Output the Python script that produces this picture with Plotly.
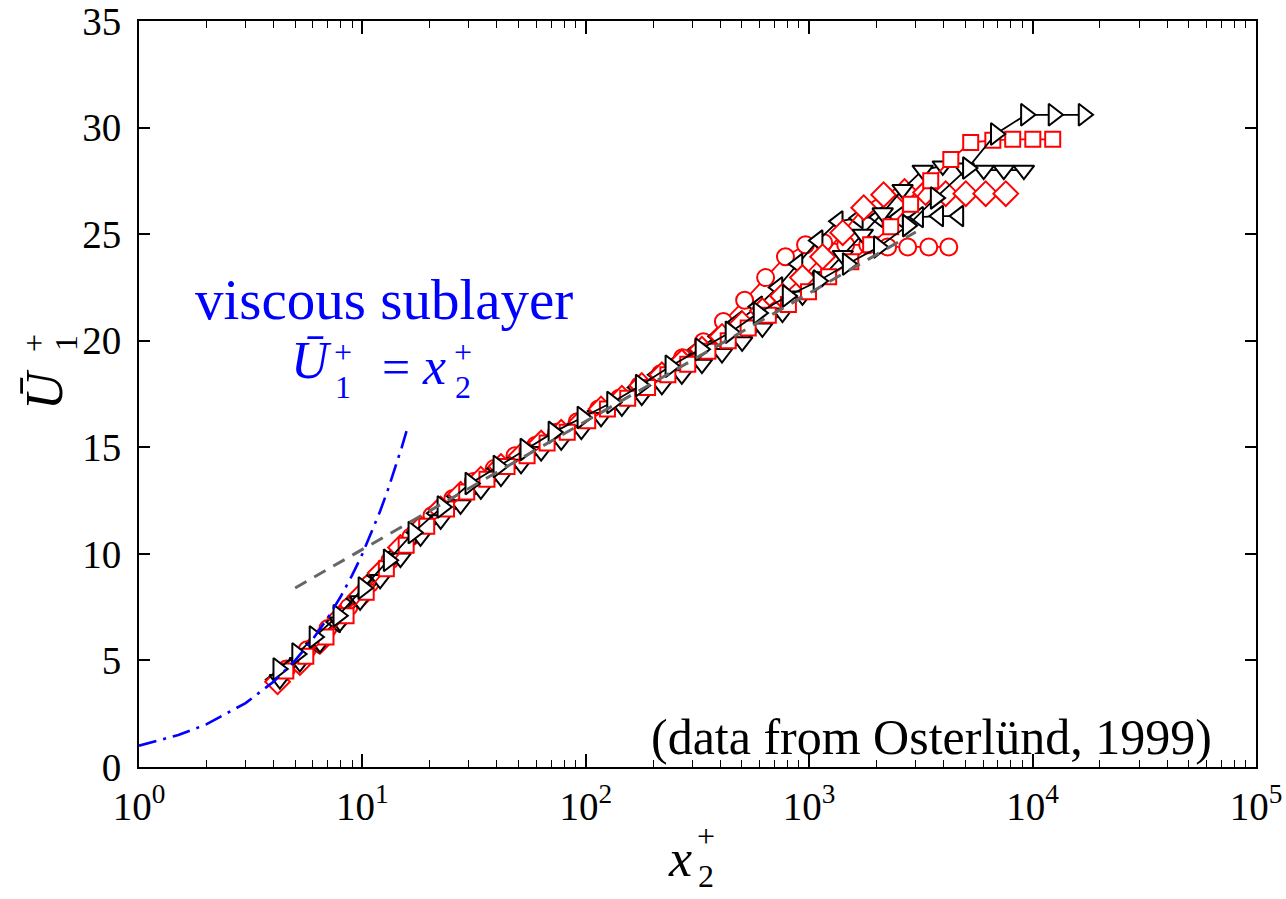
import plotly.graph_objects as go

# ---------------- data ----------------
circ_x = [4.57, 5.66, 7.01, 8.69, 10.8, 13.3, 16.5, 20.5, 25.4, 31.4, 38.9, 48.2, 59.7, 74.0, 91.6,
          114, 141, 174, 216, 271, 336, 413, 514, 638, 783, 963, 1161, 1457, 1827, 2245, 2760, 3430, 4215]
circ_u = [4.6, 5.5, 6.5, 7.5, 8.6, 9.7, 10.8, 11.8, 12.6, 13.4, 14.0, 14.6, 15.1, 15.7, 16.2,
          16.8, 17.3, 17.9, 18.45, 19.2, 19.95, 20.9, 21.9, 22.96, 23.94, 24.5, 24.6, 24.5, 24.5, 24.4, 24.4, 24.4, 24.4]

lt_x = [4.06, 5.00, 6.15, 7.57, 9.31, 11.5, 14.1, 17.3, 21.3, 26.2, 32.3, 39.7, 48.9, 60.1, 74.0, 91.0,
        112, 138, 169, 208, 256, 316, 388, 478, 587, 723, 889, 1094, 1346, 1656, 2037, 2506, 3083, 3793, 4667]
lt_u = [4.1, 4.9, 5.8, 6.8, 7.9, 9.0, 10.0, 11.0, 11.9, 12.7, 13.4, 14.0, 14.5, 15.1, 15.6, 16.1,
        16.7, 17.2, 17.8, 18.4, 19.0, 19.6, 20.2, 20.9, 21.6, 22.5, 23.6, 24.7, 25.6, 25.75, 25.8, 25.8, 25.8, 25.85, 25.85]

dm_x = [4.17, 5.25, 6.46, 7.94, 9.77, 12.0, 14.8, 18.2, 22.4, 27.5, 33.9, 41.7, 51.3, 63.1, 77.6, 95.5,
        117, 145, 178, 219, 269, 331, 407, 501, 617, 759, 933, 1148, 1413, 1754, 2153, 2673, 3319, 4083, 5023, 6166, 7586]
dm_u = [4.0, 4.9, 5.9, 7.0, 8.0, 9.1, 10.3, 11.2, 12.1, 12.8, 13.5, 14.1, 14.6, 15.2, 15.7, 16.2,
        16.8, 17.3, 17.9, 18.4, 19.0, 19.6, 20.2, 20.8, 21.4, 22.1, 22.96, 23.94, 25.07, 26.24, 26.85, 27.0, 26.95, 26.9, 26.9, 26.9, 26.9]

dt_x = [4.27, 5.25, 6.46, 7.94, 9.77, 12.0, 14.8, 18.2, 22.4, 27.5, 33.9, 41.7, 51.3, 63.1, 77.6, 95.5,
        117, 145, 178, 219, 269, 331, 407, 501, 617, 759, 933, 1148, 1413, 1738, 2133, 2618, 3221, 3963, 4920, 6039, 7430, 9141]
dt_u = [4.1, 4.9, 5.8, 6.8, 7.8, 8.8, 9.8, 10.8, 11.6, 12.3, 13.0, 13.6, 14.2, 14.8, 15.3, 15.8,
        16.4, 16.9, 17.4, 17.9, 18.4, 18.9, 19.4, 19.95, 20.6, 21.3, 22.1, 23.0, 24.0, 25.0, 26.0, 27.1, 28.0, 28.2, 28.1, 28.0, 28.0, 28.0]

sq_x = [4.54, 5.58, 6.87, 8.45, 10.4, 12.8, 15.7, 19.4, 23.8, 29.3, 36.1, 44.4, 54.6, 67.1, 82.6, 102,
        125, 154, 189, 233, 286, 352, 434, 533, 656, 807, 993, 1222, 1535, 1884, 2317, 2844, 3499, 4305,
        5284, 6637, 8147, 10023, 12303]
sq_u = [4.5, 5.2, 6.1, 7.1, 8.2, 9.3, 10.4, 11.3, 12.1, 12.9, 13.5, 14.1, 14.6, 15.2, 15.7, 16.25,
        16.8, 17.3, 17.8, 18.4, 18.9, 19.5, 20.0, 20.6, 21.2, 21.7, 22.3, 23.0, 23.7, 24.5, 25.35, 26.4, 27.5, 28.5,
        29.3, 29.4, 29.45, 29.45, 29.45]

rt_x = [4.2, 5.1, 6.1, 7.8, 10.1, 13.1, 16.9, 22.8, 30.4, 40.6, 53.6, 71.6, 96.5, 131, 176, 239,
        326, 444, 593, 800, 1100, 1486, 2048, 2760, 3680, 5130, 6840, 9330, 12400, 16900]
rt_u = [4.6, 5.3, 6.1, 7.1, 8.4, 9.7, 11.0, 12.2, 13.3, 14.1, 14.9, 15.7, 16.4, 17.1, 17.9, 18.8,
        19.6, 20.4, 21.3, 22.1, 22.8, 23.6, 24.4, 25.4, 26.7, 28.1, 29.7, 30.6, 30.6, 30.6]

vis_x = [1, 1.5, 2, 3, 4, 5, 6, 7, 8, 9, 10, 11, 12, 13, 14, 15, 16]
vis_u = [1, 1.5, 2, 3, 4, 5, 6, 7, 8, 9, 10, 11, 12, 13, 14, 15, 16]

log_x = [5, 3000]
log_u = [8.4, 25.1]

x_tickvals = [1, 10, 100, 1000, 10000, 100000]
x_ticktext = ["10<sup>0</sup>", "10<sup>1</sup>", "10<sup>2</sup>", "10<sup>3</sup>", "10<sup>4</sup>", "10<sup>5</sup>"]
y_tickvals = [0, 5, 10, 15, 20, 25, 30, 35]

# ---------------- figure ----------------
W, H = 1286, 899
L, R, T, B = 139, 1256, 21, 767
FONT = "Liberation Serif"

fig = go.Figure()

series = [
    (circ_x, circ_u, "circle", "red", 17),
    (lt_x, lt_u, "triangle-left", "black", 18),
    (dm_x, dm_u, "diamond", "red", 19),
    (dt_x, dt_u, "triangle-down", "black", 18),
    (sq_x, sq_u, "square", "red", 15),
    (rt_x, rt_u, "triangle-right", "black", 19),
]
for xs, us, sym, col, sz in series:
    fig.add_trace(go.Scatter(
        x=xs, y=us, mode="lines+markers",
        line=dict(color=col, width=1.8),
        marker=dict(symbol=sym, size=sz, color="white", line=dict(color=col, width=2)),
        showlegend=False, hoverinfo="skip"))

fig.add_trace(go.Scatter(x=vis_x, y=vis_u, mode="lines",
                         line=dict(color="#0000ff", width=2.6, dash="18px,7px,3px,7px"),
                         showlegend=False, hoverinfo="skip"))
fig.add_trace(go.Scatter(x=log_x, y=log_u, mode="lines",
                         line=dict(color="#666666", width=3, dash="13px,9px"),
                         showlegend=False, hoverinfo="skip"))


def px2paper(px, py):
    return (px - L) / (R - L), (B - py) / (B - T)


def ann(text, px, py, size, color="black", angle=0):
    xp, yp = px2paper(px, py)
    fig.add_annotation(text=text, x=xp, y=yp, xref="paper", yref="paper",
                       xanchor="center", yanchor="middle", showarrow=False,
                       textangle=angle, font=dict(family=FONT, size=size, color=color))


# blue texts
ann("viscous sublayer", 384, 299, 57, "#0000ff")
ann("<i>Ū</i>", 311, 360, 52, "#0000ff")
ann("+", 343, 352, 32, "#0000ff")
ann("1", 343, 387, 32, "#0000ff")
ann("=", 396, 367, 50, "#0000ff")
ann("<i>x</i>", 434, 366, 52, "#0000ff")
ann("+", 463, 352, 32, "#0000ff")
ann("2", 463, 387, 32, "#0000ff")

# data source
ann("(data from Osterlünd, 1999)", 931, 737, 50)

# x title  x_2^+
ann("<i>x</i>", 680, 858, 52)
ann("+", 706, 836, 32)
ann("2", 706, 876, 32)

# y title  Ū_1^+ (rotated)
ann("<i>Ū</i>", 44, 390, 52, angle=-90)
ann("+", 34, 343, 32, angle=-90)
ann("1", 66, 343, 32, angle=-90)

axis_common = dict(
    showline=True, linecolor="black", linewidth=2, mirror="ticks",
    ticks="inside", tickcolor="black", tickwidth=1.5,
    showgrid=False, zeroline=False, automargin=False,
    ticklabeloverflow="allow",
    tickfont=dict(family=FONT, size=39, color="black"),
)

fig.update_xaxes(type="log", range=[0, 5], tickvals=x_tickvals, ticktext=x_ticktext,
                 ticklen=13, ticklabelstandoff=4,
                 minor=dict(ticks="inside", ticklen=7, tickwidth=1.2, tickcolor="black",
                            dtick="D1", showgrid=False),
                 **axis_common)
fig.update_yaxes(range=[0, 35], tickvals=y_tickvals, ticklen=11, ticklabelstandoff=8,
                 **axis_common)

fig.update_layout(
    width=W, height=H,
    margin=dict(l=L, r=W - R, t=T, b=H - B, pad=0, autoexpand=False),
    paper_bgcolor="white", plot_bgcolor="white",
    font=dict(family=FONT, color="black"),
)

fig.write_html("out.html")
